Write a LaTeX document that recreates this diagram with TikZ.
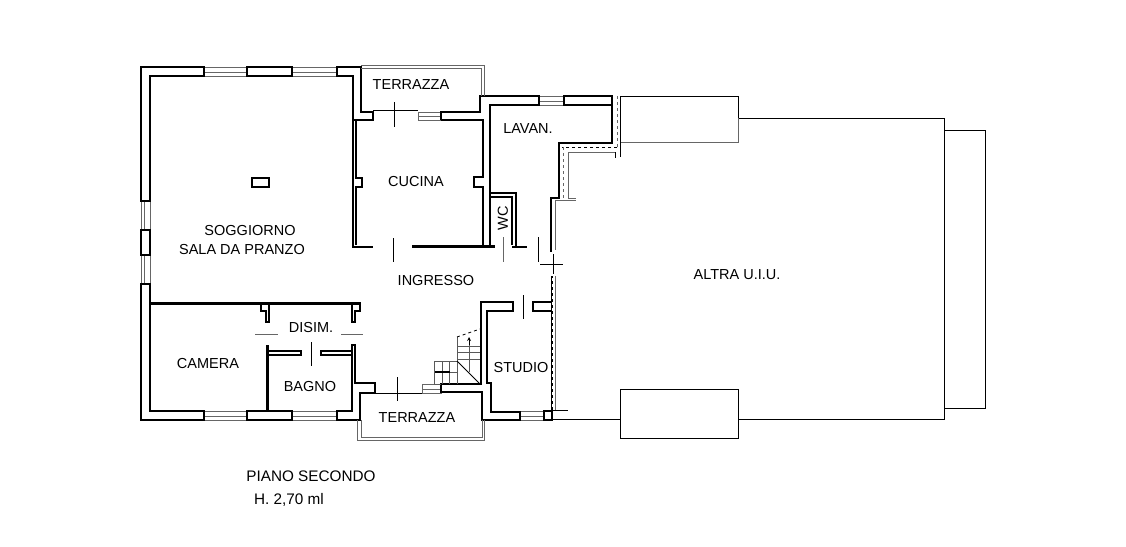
\documentclass[tikz,border=0pt]{standalone}
\usepackage{fontspec}
\setmainfont{Liberation Sans}
\begin{document}
\begin{tikzpicture}[x=1pt,y=-1pt]
      \tikzstyle{wall}=[draw=black,line width=2.8pt,line join=miter]
      \tikzstyle{thinwall}=[draw=black,line width=1.6pt]
      \tikzstyle{window}=[draw=black!60,line width=0.9pt]
      \tikzstyle{outline}=[draw=black,line width=0.8pt]
      \tikzstyle{railing}=[draw=black!60,line width=0.9pt]
      \tikzstyle{stair}=[draw=black!65,line width=0.9pt]
      \tikzstyle{every node}=[font=\fontsize{14.5}{17}\selectfont,inner sep=0pt]
      \tikzstyle{caption}=[font=\fontsize{15.3}{17}\selectfont]
      \useasboundingbox (0,0) rectangle (1126,546);
      \fill[white] (0,0) rectangle (1126,546);
      % windows
      \foreach \xa/\ya/\xb/\yb in {204/67/247/76,292/67/337/76,539/96/564/105,204/411/247/420,292/411/337/420,520/411/544/420,418/112/441/120,422/384/441/393}
        {\draw[window] (\xa,\ya) rectangle (\xb,\yb);
         \draw[window] (\xa,\yb-4) -- (\xb,\yb-4);}
      \foreach \xa/\ya/\xb/\yb in {141/201/150/230,141/255/150/284}
        {\draw[window] (\xa,\ya) rectangle (\xb,\yb);
         \draw[window] (\xa+3,\ya) -- (\xa+3,\yb);}
      % outer walls
      \draw[wall] (204,76) -- (150,76) -- (150,201) -- (141,201) -- (141,67) -- (204,67) -- cycle;
      \draw[wall] (247,67) rectangle (292,76);
      \draw[wall] (337,67) -- (361,67) -- (361,112) -- (373,112) -- (373,120) -- (353,120) -- (353,76) -- (337,76) -- cycle;
      \draw[wall] (141,230) rectangle (150,255);
      \draw[wall] (204,411) -- (150,411) -- (150,284) -- (141,284) -- (141,420) -- (204,420) -- cycle;
      \draw[wall] (247,411) rectangle (292,420);
      \draw[wall] (337,411) -- (352,411) -- (352,345) -- (355,345) -- (355,383) -- (375,383) -- (375,393) -- (360,393) -- (360,420) -- (337,420) -- cycle;
      \draw[wall] (441,120) -- (483,120) -- (483,177) -- (474,177) -- (474,187) -- (483,187) -- (483,247);
      \draw[wall] (441,120) -- (441,112) -- (480,112) -- (480,96) -- (539,96) -- (539,105) -- (490,105) -- (490,193);
      \draw[wall] (564,96) rectangle (612,105);
      \draw[wall] (612,105) -- (612,143) -- (559,143) -- (559,198) -- (551,198) -- (551,252);
      % inner walls
      \draw[wall] (353,120) -- (353,248);
      \draw[thinwall] (356,120) -- (356,178) -- (362,178) -- (362,187) -- (356,187) -- (356,245);
      \draw[wall] (353,247) -- (373,247);
      \draw[wall] (412,246.5) -- (495,246.5);
      \draw[wall] (490,193) -- (490,247);
      \draw[wall] (490,193) -- (516,193) -- (516,247);
      \draw[thinwall] (490,197) -- (512,197) -- (512,245);
      \draw[wall] (512,247) -- (527,247);
      \draw[wall] (150,303.5) -- (360,303.5) -- (360,311) -- (355,311) -- (355,322) -- (352,322) -- (352,305);
      \draw[wall] (269,305) -- (269,322) -- (266,322) -- (266,311) -- (261,311) -- (261,305);
      \draw[wall] (267.5,345) -- (267.5,411);
      \draw[thinwall] (269,351) -- (301,351) -- (301,355) -- (269,355);
      \draw[thinwall] (352,351) -- (321,351) -- (321,355) -- (352,355);
      % studio
      \draw[wall] (481,384) -- (481,302) -- (513,302) -- (513,311) -- (487,311) -- (487,383) -- (491,383) -- (491,412) -- (520,412) -- (520,420) -- (482,420) -- (482,392) -- (441,392) -- (441,384) -- cycle;
      \draw[wall] (552,302) -- (533,302) -- (533,311) -- (552,311);
      \draw[wall] (552,276) -- (552,420) -- (544,420) -- (544,411) -- (552,411);
      \draw[dashed,draw=white,line width=0.6pt] (552,200) -- (552,250) (552,278) -- (552,409);
      % soggiorno chimney
      \draw[wall] (252,178) rectangle (269,187);
      % terrazza railings
      \draw[railing] (361,65) -- (484,65) -- (484,96);
      \draw[railing] (361,68) -- (481,68) -- (481,96);
      \draw[railing] (357,420) -- (357,440) -- (484,440) -- (484,420);
      \draw[railing] (361,420) -- (361,437) -- (482,437) -- (482,420);
      % door marks
      \draw[outline] (373,110) -- (418,110);
      \draw[outline] (394,102) -- (394,127);
      \draw[outline] (393,238) -- (393,262);
      \draw[railing] (503,237) -- (503,262);
      \draw[outline] (538,237) -- (538,262);
      \draw[outline] (540,264) -- (563,264);
      \draw[outline] (553,254) -- (553,274);
      \draw[outline] (523,295) -- (523,319);
      \draw[outline] (311,342) -- (311,366);
      \draw[railing] (255,334) -- (278,334);
      \draw[railing] (341,334) -- (363,334);
      \draw[outline] (374,393) -- (422,393);
      \draw[outline] (397,377) -- (397,401);
      % stairs
      \foreach \ya in {346,352,359}
        {\draw[stair] (457,\ya) -- (480,\ya);}
      \foreach \xa in {434,442,449}
        {\draw[stair] (\xa,361) -- (\xa,384);}
      \draw[stair] (434,361) -- (457,361);
      \draw[stair] (434,384) -- (441,384);
      \draw[stair] (457,337) -- (457,384);
      \draw[stair] (469,338) -- (469,372);
      \draw[outline] (457,361) -- (480,384);
      \draw[outline,dashed] (457,337) -- (480,329);
      \draw[outline,->,>=stealth] (469,345) -- (469,337);
      \draw[thinwall] (435,372) -- (450,372);
      \draw[stair] (450,372) -- (457,372);
      % altra u.i.u.
      \draw[outline] (620,96) -- (738,96) -- (738,118) -- (944,118) -- (944,419) -- (738,419) -- (738,438) -- (620,438) -- (620,389) -- (738,389) -- (738,419);
      \draw[railing] (620,142) -- (738,142) -- (738,118);
      \draw[outline] (620,96) -- (620,157);
      \draw[outline] (944,130) -- (985,130) -- (985,408) -- (944,408);
      \draw[outline] (553,419) -- (620,419);
      \draw[outline] (553,410) -- (568,410);
      % gap along the party wall
      \draw[railing,dashed] (617,96) -- (617,147);
      \draw[outline,dashed] (617,147) -- (562,147);
      \draw[railing,dashed] (563,147) -- (563,200);
      \draw[railing] (568,198) -- (568,152) -- (615,152);
      \draw[outline] (615,152) -- (615,158);
      \draw[railing] (568,198) -- (576,198);
      \draw[railing] (555,200) -- (576,200);
      \draw[railing] (555,200) -- (555,250);
      \draw[railing] (555,276) -- (555,410);
      % labels
      \node (terrazzaup) at (411,85) {TERRAZZA};
      \node (cucina) at (416,182) {CUCINA};
      \node (lavan) at (528,129) {LAVAN.};
      \node[rotate=90] (wc) at (503,218) {WC};
      \node (soggiorno) at (250,231) {SOGGIORNO};
      \node (sala) at (242,250) {SALA DA PRANZO};
      \node (ingresso) at (436,281) {INGRESSO};
      \node (disim) at (311,328) {DISIM.};
      \node (camera) at (208,364) {CAMERA};
      \node (bagno) at (310,387) {BAGNO};
      \node (studio) at (521,368) {STUDIO};
      \node (terrazzadown) at (417,418) {TERRAZZA};
      \node (altra) at (737,275) {ALTRA U.I.U.};
      \node[caption] (piano) at (311,476) {PIANO SECONDO};
      \node[caption] (altezza) at (289,500) {H. 2,70 ml};
\end{tikzpicture}
\end{document}
